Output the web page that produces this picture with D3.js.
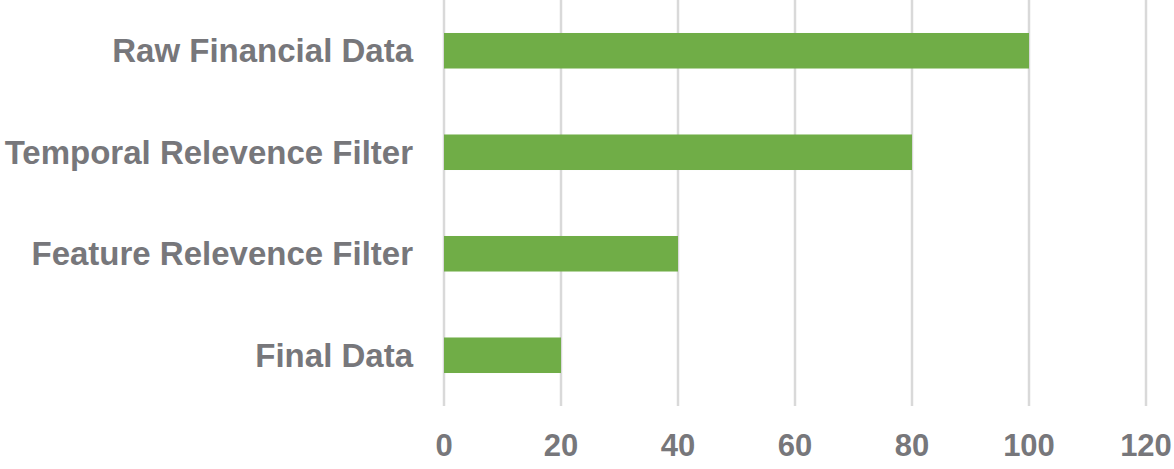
<!DOCTYPE html>
<html lang="en">
<head>
    <meta charset="UTF-8">
    <title>Data Filtering Stages</title>
    <script src="https://d3js.org/d3.v7.min.js"></script>
    <style>
        body { margin: 0; background: #fff; }
        svg text { font-family: "Liberation Sans", Arial, sans-serif; font-weight: bold; fill: #77777b; }
    </style>
</head>
<body>
    <svg></svg>
    <script>
        const categories = ["Raw Financial Data", "Temporal Relevence Filter", "Feature Relevence Filter", "Final Data"];
        const values = [100, 80, 40, 20];
        const xTicks = [0, 20, 40, 60, 80, 100, 120];

        const width = 1174;
        const height = 469;
        const margin = {top: 0, right: 28, bottom: 63, left: 444};

        const svg = d3.select("svg")
            .attr("width", width)
            .attr("height", height);

        const x = d3.scaleLinear()
            .domain([0, 120])
            .range([margin.left, width - margin.right]);

        const y = d3.scaleBand()
            .domain(categories)
            .range([margin.top, height - margin.bottom])
            .paddingInner(0.65)
            .paddingOuter(0.325);

        // gridlines
        svg.append("g")
            .selectAll("line")
            .data(xTicks)
            .join("line")
            .attr("x1", d => x(d))
            .attr("x2", d => x(d))
            .attr("y1", margin.top)
            .attr("y2", height - margin.bottom)
            .attr("stroke", "#d9d9d9")
            .attr("stroke-width", 2.5);

        // bars
        svg.append("g")
            .selectAll("rect")
            .data(values)
            .join("rect")
            .attr("x", x(0))
            .attr("y", (d, i) => y(categories[i]))
            .attr("width", d => x(d) - x(0))
            .attr("height", y.bandwidth())
            .attr("fill", "#70ad47");

        // category labels
        svg.append("g")
            .selectAll("text")
            .data(categories)
            .join("text")
            .attr("x", margin.left - 31)
            .attr("y", d => y(d) + y.bandwidth() / 2)
            .attr("dy", "0.35em")
            .attr("text-anchor", "end")
            .style("font-size", "33px")
            .text(d => d);

        // x tick labels
        svg.append("g")
            .selectAll("text")
            .data(xTicks)
            .join("text")
            .attr("x", d => x(d))
            .attr("y", 456)
            .attr("text-anchor", "middle")
            .style("font-size", "31px")
            .text(d => d);
    </script>
</body>
</html>
